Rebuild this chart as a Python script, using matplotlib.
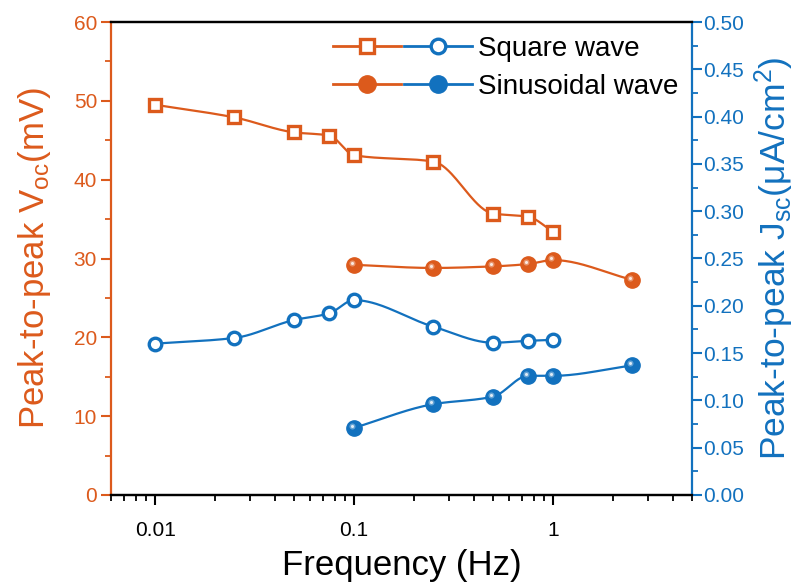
import numpy as np
import matplotlib
matplotlib.use("Agg")
import matplotlib.pyplot as plt
import matplotlib.transforms as mtransforms
from matplotlib.legend_handler import HandlerTuple
from matplotlib.ticker import MultipleLocator, FixedLocator, NullFormatter, FormatStrFormatter

plt.rcParams['font.family'] = ['Liberation Sans', 'DejaVu Sans']
plt.rcParams['mathtext.fontset'] = 'custom'
plt.rcParams['mathtext.rm'] = 'Liberation Sans'
plt.rcParams['mathtext.it'] = 'Liberation Sans'
plt.rcParams['mathtext.bf'] = 'Liberation Sans'

ORANGE = '#DC5A1C'
BLUE = '#1271BE'

# Square-wave excitation
freq_sq = [0.01, 0.025, 0.05, 0.075, 0.1, 0.25, 0.5, 0.75, 1.0]
voc_sq = [49.5, 47.9, 46.0, 45.6, 43.1, 42.3, 35.7, 35.3, 33.4]
jsc_sq = [0.160, 0.166, 0.185, 0.192, 0.206, 0.178, 0.161, 0.163, 0.164]

# Sinusoidal-wave excitation
freq_sin = [0.1, 0.25, 0.5, 0.75, 1.0, 2.5]
voc_sin = [29.2, 28.8, 29.0, 29.3, 29.8, 27.3]
jsc_sin = [0.071, 0.096, 0.104, 0.126, 0.126, 0.137]


def smooth(x, y, n=40):
    """Monotone cubic Hermite curve through the points, in log-frequency."""
    lx = np.log10(np.asarray(x, float))
    y = np.asarray(y, float)
    h = np.diff(lx)
    d = np.diff(y) / h
    m = np.zeros_like(y)
    m[0], m[-1] = d[0], d[-1]
    for i in range(1, len(y) - 1):
        if d[i - 1] * d[i] <= 0:
            m[i] = 0.0
        else:
            w1 = 2 * h[i] + h[i - 1]
            w2 = h[i] + 2 * h[i - 1]
            m[i] = (w1 + w2) / (w1 / d[i - 1] + w2 / d[i])
    xs, ys = [], []
    for i in range(len(y) - 1):
        t = np.linspace(0, 1, n)
        h00 = 2 * t ** 3 - 3 * t ** 2 + 1
        h10 = t ** 3 - 2 * t ** 2 + t
        h01 = -2 * t ** 3 + 3 * t ** 2
        h11 = t ** 3 - t ** 2
        xs.append(lx[i] + t * h[i])
        ys.append(h00 * y[i] + h10 * h[i] * m[i] + h01 * y[i + 1] + h11 * h[i] * m[i + 1])
    return 10 ** np.concatenate(xs), np.concatenate(ys)


def sphere(ax, x, y, color, ms):
    ax.plot(x, y, 'o', color=color, ms=ms, mec=color, zorder=4)
    shift = mtransforms.ScaledTranslation(-2.0 / 100, 2.0 / 100, ax.figure.dpi_scale_trans)
    ax.plot(x, y, 'o', color='white', ms=ms * 0.4, mec='none', alpha=0.35, zorder=5,
            transform=ax.transData + shift)
    ax.plot(x, y, 'o', color='white', ms=ms * 0.2, mec='none', alpha=0.8, zorder=6,
            transform=ax.transData + shift)


fig = plt.figure(figsize=(8.03, 5.86), dpi=100)
ax = fig.add_axes([111 / 803, 1 - 495 / 586, (692 - 111) / 803, (495 - 22) / 586])
ax2 = ax.twinx()

# Left axis: Voc
xs, ys = smooth(freq_sq, voc_sq)
ax.plot(xs, ys, color=ORANGE, lw=1.6, zorder=3)
ax.plot(freq_sq, voc_sq, 's', ms=8, mfc='white', mec=ORANGE, mew=2.4, zorder=4)
xs, ys = smooth(freq_sin, voc_sin)
ax.plot(xs, ys, color=ORANGE, lw=1.6, zorder=3)
sphere(ax, freq_sin, voc_sin, ORANGE, 11)

# Right axis: Jsc
xs, ys = smooth(freq_sq, jsc_sq)
ax2.plot(xs, ys, color=BLUE, lw=1.6, zorder=3)
ax2.plot(freq_sq, jsc_sq, 'o', ms=9, mfc='white', mec=BLUE, mew=2.4, zorder=4)
xs, ys = smooth(freq_sin, jsc_sin)
ax2.plot(xs, ys, color=BLUE, lw=1.6, zorder=3)
sphere(ax2, freq_sin, jsc_sin, BLUE, 11)

ax.set_xscale('log')
ax.set_xlim(0.006, 5.0)
ax.set_ylim(0, 60)
ax2.set_ylim(0, 0.5)

ax.xaxis.set_major_locator(FixedLocator([0.01, 0.1, 1]))
ax.set_xticklabels(['0.01', '0.1', '1'])
minor = [m * 10.0 ** e for e in (-3, -2, -1, 0) for m in range(2, 10)]
ax.xaxis.set_minor_locator(FixedLocator(minor))
ax.xaxis.set_minor_formatter(NullFormatter())

ax.yaxis.set_major_locator(MultipleLocator(10))
ax.yaxis.set_minor_locator(MultipleLocator(5))
ax2.yaxis.set_major_locator(MultipleLocator(0.05))
ax2.yaxis.set_minor_locator(MultipleLocator(0.025))
ax2.yaxis.set_major_formatter(FormatStrFormatter('%.2f'))

for a in (ax, ax2):
    for s in a.spines.values():
        s.set_linewidth(1.6)
ax.spines['left'].set_color(ORANGE)
ax2.spines['left'].set_visible(False)
ax2.spines['right'].set_color(BLUE)
ax.spines['right'].set_visible(False)

ax.tick_params(axis='x', which='major', direction='out', length=7, width=1.5, labelsize=15, pad=12)
ax.tick_params(axis='x', which='minor', direction='out', length=4, width=1.3)
ax.tick_params(axis='y', which='major', direction='out', length=7, width=1.5, colors=ORANGE, labelsize=15, pad=3)
ax.tick_params(axis='y', which='minor', direction='out', length=4, width=1.3, colors=ORANGE)
ax2.tick_params(axis='y', which='major', direction='out', length=7, width=1.5, colors=BLUE, labelsize=15, pad=1)
ax2.tick_params(axis='y', which='minor', direction='out', length=4, width=1.3, colors=BLUE)

ax.set_xlabel('Frequency (Hz)', fontsize=25, labelpad=6)
ax.set_ylabel(r'Peak-to-peak V$_{\rm oc}$(mV)', fontsize=25, color=ORANGE, labelpad=15)
ax2.set_ylabel(r'Peak-to-peak J$_{\rm sc}$($\mu$A/cm$^2$)', fontsize=25.5, color=BLUE, labelpad=6)

# Legend with paired orange/blue handles
h_sq_v, = ax.plot([], [], '-s', color=ORANGE, ms=9.5, mfc='white', mec=ORANGE, mew=2.4, lw=2)
h_sq_j, = ax.plot([], [], '-o', color=BLUE, ms=10.5, mfc='white', mec=BLUE, mew=2.4, lw=2)
h_sn_v, = ax.plot([], [], '-o', color=ORANGE, ms=12.5, mec=ORANGE, lw=2)
h_sn_j, = ax.plot([], [], '-o', color=BLUE, ms=12.5, mec=BLUE, lw=2)
leg = ax2.legend([(h_sq_v, h_sq_j), (h_sn_v, h_sn_j)], ['Square wave', 'Sinusoidal wave'],
                 handler_map={tuple: HandlerTuple(ndivide=None, pad=0.1)},
                 loc='upper right', bbox_to_anchor=(1.0, 1.0), frameon=False,
                 fontsize=20, handlelength=5.0, handletextpad=0.2, labelspacing=0.42,
                 borderaxespad=0.1)

fig.savefig('out.png', dpi=100)
